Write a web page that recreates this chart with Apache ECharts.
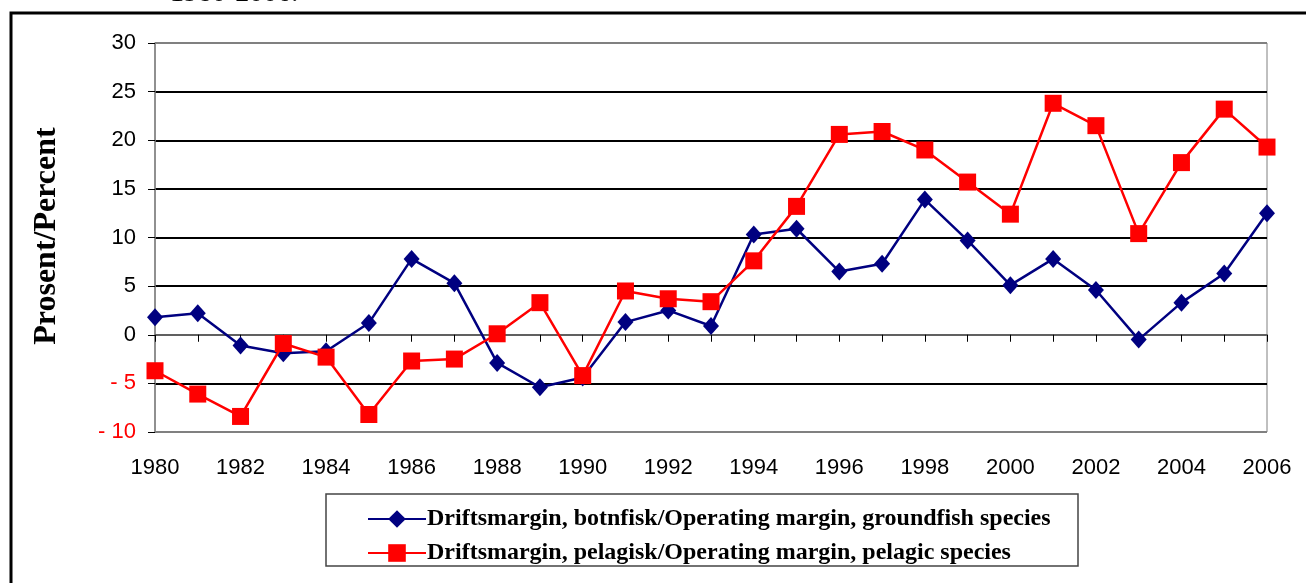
<!DOCTYPE html>
<html>
<head>
<meta charset="utf-8">
<script src="https://cdn.jsdelivr.net/npm/echarts@6/dist/echarts.min.js"></script>
<style>html,body{margin:0;padding:0;background:#fff;}#c{width:1306px;height:583px;}</style>
</head>
<body>
<div id="c"></div>
<script>
const years = ['1980','1981','1982','1983','1984','1985','1986','1987','1988','1989','1990','1991','1992','1993','1994','1995','1996','1997','1998','1999','2000','2001','2002','2003','2004','2005','2006'];
const groundfish = [1.8, 2.2, -1.1, -1.9, -1.7, 1.2, 7.8, 5.3, -2.9, -5.4, -4.4, 1.3, 2.5, 0.9, 10.3, 10.9, 6.5, 7.3, 13.9, 9.7, 5.1, 7.8, 4.6, -0.5, 3.3, 6.3, 12.5];
const pelagic = [-3.7, -6.1, -8.4, -0.9, -2.3, -8.2, -2.7, -2.5, 0.1, 3.3, -4.2, 4.5, 3.7, 3.4, 7.6, 13.2, 20.6, 20.9, 19.0, 15.7, 12.4, 23.8, 21.5, 10.4, 17.7, 23.2, 19.3];
const seriesNames = ['Driftsmargin, botnfisk/Operating margin, groundfish species', 'Driftsmargin, pelagisk/Operating margin, pelagic species'];
const yAxisName = 'Prosent/Percent';
const titleText = '1980-2006.';

const chart = echarts.init(document.getElementById('c'), null, {renderer: 'canvas'});
chart.setOption({
  animation: false,
  backgroundColor: '#fff',
  graphic: [
    {type: 'rect', shape: {x: 11, y: 13, width: 1330, height: 620}, style: {fill: 'none', stroke: '#000', lineWidth: 3}, z: 0},
    {type: 'text', x: 170, y: -20, style: {text: titleText, font: '28px "Liberation Serif"', fill: '#000'}},
    {type: 'rect', shape: {x: 326, y: 494, width: 752, height: 72}, style: {fill: '#fff', stroke: '#444', lineWidth: 1.5}, z: 0},
    {type: 'text', x: 47, y: 236, rotation: Math.PI / 2, style: {text: yAxisName, font: 'bold 32px "Liberation Serif"', fill: '#000', align: 'center', verticalAlign: 'middle'}}
  ],
  grid: {left: 155, right: 39, top: 43, bottom: 151, show: true, borderColor: '#808080', borderWidth: 1, backgroundColor: 'transparent'},
  legend: {
    orient: 'vertical', left: 362, top: 502, itemWidth: 58, itemHeight: 22, itemGap: 10,
    textStyle: {fontFamily: 'Liberation Serif', fontWeight: 'bold', fontSize: 24, color: '#000', padding: [0,0,0,-4]},
    data: seriesNames
  },
  xAxis: {
    type: 'category', data: years, boundaryGap: false,
    axisLine: {lineStyle: {color: '#808080', width: 1.5}},
    axisTick: {show: true, length: 7, lineStyle: {color: '#000'}, interval: 0, inside: false},
    axisLabel: {interval: 1, fontFamily: 'Liberation Sans', fontSize: 22, color: '#000', margin: 25},
    splitLine: {show: false}
  },
  yAxis: {
    type: 'value', min: -10, max: 30, interval: 5,
    axisLine: {show: true, lineStyle: {color: '#808080', width: 1.5}},
    axisTick: {show: true, length: 7, lineStyle: {color: '#000'}},
    axisLabel: {
      fontFamily: 'Liberation Sans', fontSize: 22, margin: 19,
      formatter: v => v < 0 ? '- ' + Math.abs(v) : String(v),
      color: v => Number(v) < 0 ? '#ff0000' : '#000'
    },
    splitLine: {show: true, lineStyle: {color: ['#808080','#000','#000','#000','#000','#000','#000','#000','#808080'], width: 2}}
  },
  series: [
    {name: seriesNames[0], type: 'line', data: groundfish, symbol: 'diamond', symbolSize: [16, 18],
     lineStyle: {color: '#000080', width: 2.5}, itemStyle: {color: '#000080'}, z: 3},
    {name: seriesNames[1], type: 'line', data: pelagic, symbol: 'rect', symbolSize: 17,
     lineStyle: {color: '#ff0000', width: 2.5}, itemStyle: {color: '#ff0000'}, z: 4}
  ]
});
</script>
</body>
</html>
